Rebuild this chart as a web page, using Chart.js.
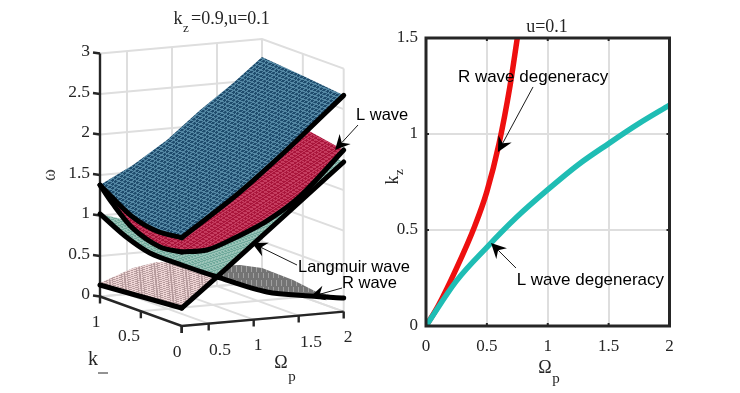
<!DOCTYPE html>
<html><head><meta charset="utf-8">
<script src="https://cdn.jsdelivr.net/npm/chart.js@4"></script>
<style>
html,body{margin:0;padding:0;background:#fff;width:740px;height:393px;overflow:hidden}
canvas{position:absolute;top:0}
#c3d{left:0}#c2d{left:380px}
</style></head><body>
<canvas id="c3d" width="420" height="393"></canvas>
<canvas id="c2d" width="360" height="393"></canvas>
<script>
// ---- right panel data: k_z against Omega_p
const rOmega = [0,0.1,0.25,0.4,0.5,0.6,0.69,0.75];
const rKz    = [0,0.105,0.3,0.52,0.7,0.95,1.25,1.5];
const lOmega = [0,0.25,0.5,0.75,1,1.25,1.5,1.75,2];
const lKz    = [0,0.235,0.41,0.57,0.71,0.84,0.95,1.055,1.15];
// ---- left panel data: [Omega_p, k, omega]
const omegaTicks = [0,0.5,1,1.5,2,2.5,3];
const omegaPTicks = [0.5,1,1.5,2];
const kTicks = [0,0.5,1];
const blueNearK = [[0.2,1,1.376],[0.2,0.88,1.297],[0.2,0.6,1.127],[0.2,0.3,1.06],[0.2,0,1.09]];
const blueNearO = [[0.2,0,1.09],[0.737,0,1.5],[1,0,1.723],[1.37,0,2.06],[2,0,2.67]];
const blueFarO  = [[2,0,2.67],[2,0.5,2.73],[2,1,2.78],[1.68,1,2.49],[1.31,1,2.19],[0.944,1,1.858],[0.567,1,1.587],[0.2,1,1.376]];
const redNearK  = [[0.2,1,1.376],[0.2,0.853,1.21],[0.2,0.6,0.99],[0.2,0.265,0.879],[0.2,0,0.914]];
const redNearO  = [[0.2,0,0.914],[0.48,0,0.911],[0.77,0,1.02],[1.148,0,1.205],[1.515,0,1.47],[2,0,1.995]];
const redFarO   = [[2,0,1.995],[2,0.44,2.08],[2,1,2.2],[1.31,1,1.945],[0.944,1,1.735],[0.567,1,1.525],[0.2,1,1.376]];
const rCurve    = [[0.2,1,1.02],[0.2,0.694,0.858],[0.2,0.39,0.76],[0.2,0,0.753],[0.592,0,0.567],[1.148,0,0.326],[1.626,0,0.23],[2,0,0.168]];
const straight  = [[0.2,0,0.222],[0.592,0,0.567],[2,0,1.847]];
const tealHidden= [[2,0.3,1.89],[0.589,1,0.88]];
const lowFarO   = [[0.2,1,0.167],[0.567,1,0.316],[0.833,1,0.363],[1.122,1,0.322],[1.5,1,0.248],[1.756,1,0.235],[2,1,0.174],[2,0.62,0.164],[2,0.33,0.122],[2,0,0.168]];
const lowNearK  = [[0.2,1,0.142],[0.2,0.5,0.182],[0.2,0,0.222]];

// ---- projection of the 3-D box onto the hidden 2-D scales
function proj(p){
  const dO=p[0]-0.2;
  return {x:181.7+90*dO-81.7*p[1], y:326-8*dO-29.5*p[1]-81*p[2]};
}
const P = a => a.map(proj);

const SERIF='"Liberation Serif"', SANS='"Liberation Sans"';
const DARK='#262626', GRID='#dedede';

function meshPattern(ctx,base,line,u,v){
  const n=10, t=document.createElement('canvas'); t.width=t.height=n;
  const g=t.getContext('2d');
  g.fillStyle=base; g.fillRect(0,0,n,n);
  g.fillStyle=line; g.fillRect(0,0,n,3); g.fillRect(0,0,3,n);
  const pat=ctx.createPattern(t,'repeat');
  pat.setTransform(new DOMMatrix([u[0]/n,u[1]/n,v[0]/n,v[1]/n,0,0]));
  return pat;
}
function streakPattern(ctx){
  const t=document.createElement('canvas'); t.width=5; t.height=14;
  const g=t.getContext('2d');
  g.fillStyle='#747474'; g.fillRect(0,0,5,14);
  g.fillStyle='#a0a0a0'; g.fillRect(1,0,1,6); g.fillRect(3,7,1,5);
  return ctx.createPattern(t,'repeat');
}
function txt(ctx,s,x,y,font,align,color){
  ctx.save(); ctx.font=font; ctx.textAlign=align||'center'; ctx.textBaseline='middle';
  ctx.fillStyle=color||DARK; ctx.fillText(s,x,y); ctx.restore();
}
function arrow(ctx,x0,y0,x1,y1){
  const a=Math.atan2(y1-y0,x1-x0), L=15, W=7.5, B=10;
  ctx.save(); ctx.strokeStyle='#000'; ctx.fillStyle='#000'; ctx.lineWidth=0.9;
  ctx.beginPath(); ctx.moveTo(x0,y0); ctx.lineTo(x1-Math.cos(a)*B,y1-Math.sin(a)*B); ctx.stroke();
  ctx.translate(x1,y1); ctx.rotate(a);
  ctx.beginPath(); ctx.moveTo(0,0); ctx.lineTo(-L,-W); ctx.lineTo(-B,0); ctx.lineTo(-L,W); ctx.closePath(); ctx.fill();
  ctx.restore();
}

// ---- left chart
const c3=document.getElementById('c3d'), x3=c3.getContext('2d');
const bluePat = meshPattern(x3,'#1d4a6b','#568aa6',[3.0,-2.7],[-3.2,-1.3]);
const redPat  = meshPattern(x3,'#a8143a','#c63d60',[3.0,-2.0],[-3.2,-1.6]);
const tealPat = meshPattern(x3,'#6fa99b','#9cc5b9',[3.0,-1.0],[-3.2,-1.6]);
const pinkPat = meshPattern(x3,'#efd6d6','#b59a9c',[3.0,-0.8],[-3.2,-1.2]);
const grayPat = streakPattern(x3);

function gridSets(){
  const s=[];
  const add=a=>s.push({data:P(a),showLine:true,borderColor:GRID,borderWidth:2,pointRadius:0,fill:false,tension:0});
  omegaTicks.forEach(w=>{ add([[0.2,1,w],[2,1,w],[2,0,w]]); });
  omegaPTicks.forEach(o=>{ add([[o,0,0],[o,1,0],[o,1,3]]); });
  kTicks.forEach(k=>{ add([[0.2,k,0],[2,k,0],[2,k,3]]); });
  add([[0.2,1,0],[0.2,1,3]]);
  return s;
}
const surf=(pts,c)=>({data:P(pts),showLine:true,borderColor:'rgba(0,0,0,0)',borderWidth:0,backgroundColor:c,fill:'shape',pointRadius:0,tension:0});
const edge=(pts,w,t)=>({data:P(pts),showLine:true,borderColor:'#000',borderWidth:w||5,fill:false,pointRadius:0,tension:t==null?0.3:t,borderCapStyle:'round',borderJoinStyle:'round'});
const axisLine=pts=>({data:P(pts),showLine:true,borderColor:DARK,borderWidth:2.4,fill:false,pointRadius:0,tension:0});

const grayShape = lowFarO.slice(3).concat(rCurve.slice(4).reverse());
const pinkShape = lowFarO.slice(0,4).concat(rCurve.slice(3,5),[straight[0]],lowNearK.slice(1).reverse());
const tealShape = rCurve.slice(0,5).concat([straight[2]],tealHidden);

const tick3d=[];
omegaPTicks.concat([0.2]).forEach(o=>tick3d.push(axisLine([[o,0,0],[o,0,-0.085]])));
kTicks.forEach(k=>tick3d.push(axisLine([[0.2,k,0],[0.2,k,-0.085]])));
omegaTicks.forEach(w=>{const q=proj([0.2,1,w]);tick3d.push({data:[q,{x:q.x-7,y:q.y-1}],showLine:true,borderColor:DARK,borderWidth:2.4,pointRadius:0});});

// Chart.js paints the first dataset last, so the list is reversed to paint back to front
const sets3d=[
    ...gridSets(),
    axisLine([[0.2,1,0],[0.2,1,3]]),
    axisLine([[0.2,1,0],[0.2,0,0],[2,0,0]]),
    ...tick3d,
    surf(grayShape,grayPat),
    surf(pinkShape,pinkPat),
    surf(tealShape,tealPat),
    edge(straight,5,0),
    surf(redNearK.concat(redNearO.slice(1),redFarO.slice(1)),redPat),
    edge(redNearK), edge(redNearO),
    surf(blueNearK.concat(blueNearO.slice(1),blueFarO.slice(1)),bluePat),
    edge(blueNearK), edge(blueNearO),
    edge(rCurve), edge(lowNearK,5,0)
].reverse();

new Chart(c3,{
  type:'scatter',
  data:{datasets:sets3d},
  options:{
    responsive:false,animation:false,devicePixelRatio:1,
    layout:{padding:0},
    plugins:{legend:{display:false},tooltip:{enabled:false},filler:{drawTime:'beforeDatasetDraw'}},
    scales:{
      x:{type:'linear',min:0,max:420,display:false},
      y:{type:'linear',min:0,max:393,reverse:true,display:false}
    }
  },
  plugins:[{id:'labels3d',afterDraw(ch){
    const c=ch.ctx, f='17.5px '+SERIF;
    omegaTicks.forEach(w=>{const q=proj([0.2,1,w]); txt(c,String(w),q.x-10,q.y-2,f,'right');});
    txt(c,'1',96,322,f); txt(c,'0.5',129,336,f); txt(c,'0',177,352,f);
    [[0.5,220,350],[1,258,345],[1.5,311,342],[2,348,337]].forEach(a=>txt(c,String(a[0]),a[1],a[2],f));
    txt(c,'k',93,360,'20px '+SERIF);
    c.save(); c.strokeStyle=DARK; c.lineWidth=1; c.beginPath(); c.moveTo(98,373); c.lineTo(108,373); c.stroke(); c.restore();
    txt(c,'\u03a9',281,363,'18px '+SERIF); txt(c,'p',292,377,'15px '+SERIF);
    c.save(); c.translate(50,175); c.rotate(-Math.PI/2); txt(c,'\u03c9',0,0,'18px '+SERIF,'center','#444'); c.restore();
    txt(c,'k',178,19,'18px '+SERIF); txt(c,'z',186,29,'13px '+SERIF);
    txt(c,'=0.9,u=0.1',191,19,'18px '+SERIF,'left');
    const a='16.5px '+SANS;
    txt(c,'L wave',356,115,a,'left','#000'); arrow(c,358,125,335,150);
    txt(c,'Langmuir wave',298,267,a,'left','#000'); arrow(c,297,265,252,243);
    txt(c,'R wave',342,283,a,'left','#000'); arrow(c,342,288,310,297);
  }}]
});

// ---- right chart
const pts=(xs,ys)=>xs.map((x,i)=>({x,y:ys[i]}));
const tickFmt=v=>String(v);
new Chart(document.getElementById('c2d'),{
  type:'scatter',
  data:{datasets:[
    {data:pts(rOmega,rKz),showLine:true,borderColor:'#ee0f0f',borderWidth:5.5,pointRadius:0,cubicInterpolationMode:'monotone'},
    {data:pts(lOmega,lKz),showLine:true,borderColor:'#1fbdb4',borderWidth:5.5,pointRadius:0,cubicInterpolationMode:'monotone'}
  ].reverse()},
  options:{
    responsive:false,animation:false,devicePixelRatio:1,
    layout:{padding:{top:38,right:70.5,left:0,bottom:0}},
    plugins:{legend:{display:false},tooltip:{enabled:false}},
    scales:{
      x:{type:'linear',min:0,max:2,afterFit(s){s.height=67;},
        border:{display:false},
        grid:{color:GRID,lineWidth:2,drawTicks:false},
        ticks:{stepSize:0.5,padding:10,maxRotation:0,callback:tickFmt,color:DARK,font:{family:'Liberation Serif',size:17}}},
      y:{type:'linear',min:0,max:1.5,afterFit(s){s.width=46;},
        border:{display:false},
        grid:{color:GRID,lineWidth:2,drawTicks:false},
        ticks:{stepSize:0.5,padding:8,callback:tickFmt,color:DARK,font:{family:'Liberation Serif',size:17}}}
    }
  },
  plugins:[{id:'frame2d',afterDraw(ch){
    const c=ch.ctx,a=ch.chartArea,X=ch.scales.x,Y=ch.scales.y;
    c.save(); c.strokeStyle=DARK; c.lineWidth=3; c.strokeRect(a.left,a.top,a.right-a.left,a.bottom-a.top);
    c.lineWidth=2; c.beginPath();
    [0.5,1,1.5].forEach(v=>{const p=X.getPixelForValue(v); c.moveTo(p,a.bottom); c.lineTo(p,a.bottom-3); c.moveTo(p,a.top); c.lineTo(p,a.top+3);});
    [0.5,1].forEach(v=>{const p=Y.getPixelForValue(v); c.moveTo(a.left,p); c.lineTo(a.left+3,p); c.moveTo(a.right,p); c.lineTo(a.right-3,p);});
    c.stroke(); c.restore();
    const f='18px '+SERIF, s='17px '+SANS;
    txt(c,'u=0.1',167,27,f);
    txt(c,'\u03a9',165,368,f); txt(c,'p',176,379,'15px '+SERIF);
    c.save(); c.translate(13,180); c.rotate(-Math.PI/2); txt(c,'k',0,0,f); txt(c,'z',8,7,'13px '+SERIF); c.restore();
    const px=v=>X.getPixelForValue(v), py=v=>Y.getPixelForValue(v);
    txt(c,'R wave degeneracy',px(0.879),py(1.297),s,'center','#000');
    arrow(c,px(0.879),py(1.245),px(0.591),py(0.906));
    txt(c,'L wave degeneracy',px(1.35),py(0.24),s,'center','#000');
    arrow(c,px(0.739),py(0.302),px(0.534),py(0.432));
  }}]
});
</script></body></html>
